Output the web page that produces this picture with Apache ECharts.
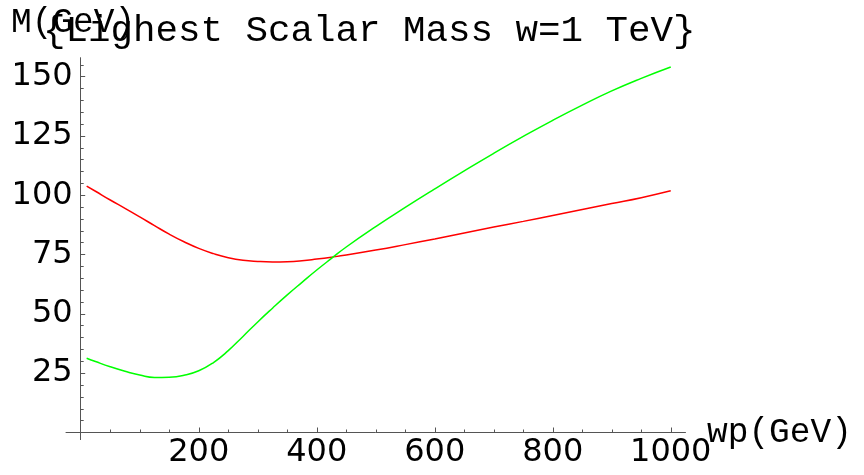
<!DOCTYPE html>
<html>
<head>
<meta charset="utf-8">
<script src="https://cdn.jsdelivr.net/npm/echarts@6/dist/echarts.min.js"></script>
<style>html,body{margin:0;padding:0;background:#fff}#c{width:864px;height:475px}</style>
</head>
<body>
<div id="c"></div>
<script>
// wp (GeV) sample positions
var wp = [10, 25, 50, 75, 100, 125, 150, 175, 200, 225, 250, 275, 300, 325, 350, 375, 400, 425, 450, 500, 550, 600, 650, 700, 750, 800, 850, 900, 950, 1000];
// red curve
var redMass = [103.9, 101.7, 98.0, 94.5, 90.9, 87.2, 83.6, 80.4, 77.6, 75.4, 73.7, 72.6, 72.1, 71.9, 72.0, 72.4, 73.1, 73.9, 74.8, 76.9, 79.2, 81.6, 84.1, 86.6, 89.0, 91.5, 94.0, 96.5, 99.0, 101.9];
// green curve
var greenMass = [31.3, 29.9, 27.7, 25.8, 24.2, 23.2, 23.3, 24.1, 26.0, 29.5, 34.5, 40.5, 46.6, 52.4, 58.0, 63.3, 68.5, 73.4, 78.2, 86.8, 94.9, 102.7, 110.3, 117.7, 124.8, 131.6, 138.0, 144.0, 149.3, 154.1];
var xMajor = [200, 400, 600, 800, 1000];
var xMinor = [50, 100, 150, 250, 300, 350, 450, 500, 550, 650, 700, 750, 850, 900, 950];
var yMajor = [25, 50, 75, 100, 125, 150];
var yMinor = [5, 10, 15, 20, 30, 35, 40, 45, 55, 60, 65, 70, 80, 85, 90, 95, 105, 110, 115, 120, 130, 135, 140, 145, 155];

function pairs(xs, ys) { return xs.map(function (x, i) { return [x, ys[i]]; }); }

var axisCol = '#555';
var chart = echarts.init(document.getElementById('c'));
chart.setOption({
  animation: false,
  grid: { left: 66, right: 178.5, top: 57.7, bottom: 35.4, containLabel: false },
  xAxis: [
    { type: 'value', min: -25, max: 1025, position: 'bottom', offset: -7.1,
      splitLine: { show: false },
      axisLine: { onZero: false, lineStyle: { color: axisCol, width: 1 } },
      axisTick: { inside: true, length: 5, customValues: xMajor, lineStyle: { color: axisCol } },
      axisLabel: { customValues: xMajor, margin: 4, color: '#000', fontFamily: 'DejaVu Sans', fontSize: 32, lineHeight: 32,
        formatter: function (v) { return String(v); } } },
    { type: 'value', min: -25, max: 1025, position: 'bottom', offset: -7.1,
      splitLine: { show: false },
      axisLine: { show: false, onZero: false },
      axisTick: { inside: true, length: 3, customValues: xMinor, lineStyle: { color: axisCol } },
      axisLabel: { show: false } }
  ],
  yAxis: [
    { type: 'value', min: -3, max: 158, position: 'left', offset: -14.7,
      splitLine: { show: false },
      axisLine: { show: true, onZero: false, lineStyle: { color: axisCol, width: 1 } },
      axisTick: { show: true, inside: true, length: 4.5, customValues: yMajor, lineStyle: { color: axisCol } },
      axisLabel: { customValues: yMajor, margin: 8, color: '#000', fontFamily: 'DejaVu Sans', fontSize: 32,
        formatter: function (v) { return String(v); } } },
    { type: 'value', min: -3, max: 158, position: 'left', offset: -14.7,
      splitLine: { show: false },
      axisLine: { show: false, onZero: false },
      axisTick: { show: true, inside: true, length: 3, customValues: yMinor, lineStyle: { color: axisCol } },
      axisLabel: { show: false } }
  ],
  series: [
    { type: 'line', data: pairs(wp, redMass), smooth: 0.5, showSymbol: false, xAxisIndex: 0, yAxisIndex: 0,
      lineStyle: { color: '#ff0000', width: 1.5 } },
    { type: 'line', data: pairs(wp, greenMass), smooth: 0.5, showSymbol: false, xAxisIndex: 0, yAxisIndex: 0,
      lineStyle: { color: '#00ff00', width: 1.5 } }
  ],
  graphic: [
    { type: 'text', left: 43, top: 12, style: { text: '{Lighest Scalar Mass w=1 TeV}', font: '37.5px "Liberation Mono"', fill: '#000' } },
    { type: 'text', left: 11, top: 5, style: { text: 'M(GeV)', font: '34.5px "Liberation Mono"', fill: '#000' } },
    { type: 'text', left: 707, top: 415, style: { text: 'wp(GeV)', font: '34.5px "Liberation Mono"', fill: '#000' } }
  ]
});
</script>
</body>
</html>
